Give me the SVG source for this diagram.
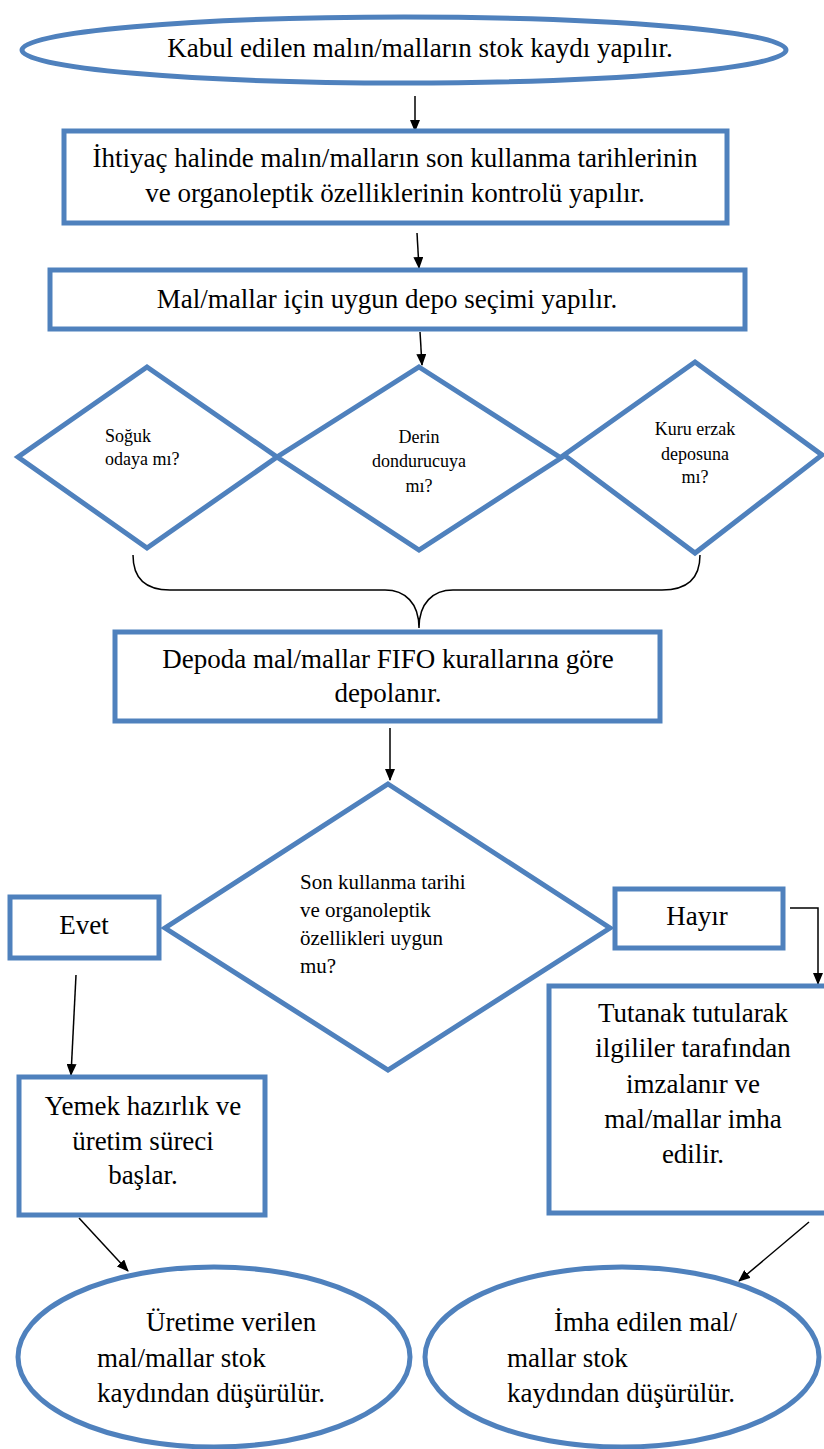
<svg xmlns="http://www.w3.org/2000/svg" width="824" height="1449" viewBox="0 0 824 1449">
<style>
text{font-family:"Liberation Serif",Tinos,"Times New Roman","DejaVu Serif","Noto Serif",serif;fill:#000}
.n{fill:#fff;stroke:#4F81BD;stroke-width:5}
.t{font-size:27px}
.m{font-size:21px}
.s{font-size:18px}
.c{text-anchor:middle}
.a{fill:none;stroke:#000;stroke-width:1.5}
</style>
<defs>
<marker id="ah" markerWidth="12" markerHeight="10" refX="11" refY="5" orient="auto" markerUnits="userSpaceOnUse" viewBox="0 0 12 10">
<path d="M0,0 L12,5 L0,10 z" fill="#000"/>
</marker>
</defs>
<rect width="824" height="1449" fill="#fff"/>
<g id="connectors">
<line class="a" x1="415" y1="96" x2="415" y2="131" marker-end="url(#ah)"/>
<line class="a" x1="417" y1="233" x2="419" y2="268" marker-end="url(#ah)"/>
<line class="a" x1="420" y1="332" x2="422" y2="365" marker-end="url(#ah)"/>
<path class="a" d="M133,555 C133,578 145,590 170,590 L385,590 C405,590 419,603 419,628 C419,603 433,590 453,590 L662,590 C688,590 700,578 700,555"/>
<line class="a" x1="390" y1="728" x2="390" y2="780" marker-end="url(#ah)"/>
<line class="a" x1="76" y1="975" x2="71" y2="1075" marker-end="url(#ah)"/>
<polyline class="a" points="790,908 818,908 818,984" marker-end="url(#ah)"/>
<line class="a" x1="79" y1="1218" x2="128" y2="1271" marker-end="url(#ah)"/>
<line class="a" x1="809" y1="1222" x2="739" y2="1281" marker-end="url(#ah)"/>
</g>
<g id="start">
<ellipse class="n" cx="404" cy="50" rx="382" ry="33"/>
<text class="t c" x="420" y="57">Kabul edilen malın/malların stok kaydı yapılır.</text>
</g>
<g id="check">
<rect class="n" x="64" y="131" width="663" height="92"/>
<text class="t c" x="395" y="167">İhtiyaç halinde malın/malların son kullanma tarihlerinin</text>
<text class="t c" x="395" y="202">ve organoleptik özelliklerinin kontrolü yapılır.</text>
</g>
<g id="select">
<rect class="n" x="50" y="270" width="695" height="59"/>
<text class="t c" x="387" y="308">Mal/mallar için uygun depo seçimi yapılır.</text>
</g>
<g id="d-cold">
<polygon class="n" points="147,367 277,457 147,548 18,457"/>
<text class="s" x="105" y="442">Soğuk</text>
<text class="s" x="105" y="465">odaya mı?</text>
</g>
<g id="d-freezer">
<polygon class="n" points="419,367 561,458 419,550 277,457"/>
<text class="s c" x="419" y="443">Derin</text>
<text class="s c" x="419" y="467">dondurucuya</text>
<text class="s c" x="419" y="492">mı?</text>
</g>
<g id="d-dry">
<polygon class="n" points="695,362 822,455 695,553 564,455"/>
<text class="s c" x="695" y="435">Kuru erzak</text>
<text class="s c" x="695" y="460">deposuna</text>
<text class="s c" x="695" y="483">mı?</text>
</g>
<g id="store">
<rect class="n" x="115" y="632" width="545" height="89"/>
<text class="t c" x="388" y="668">Depoda mal/mallar FIFO kurallarına göre</text>
<text class="t c" x="388" y="702">depolanır.</text>
</g>
<g id="decision">
<polygon class="n" points="388,784 610,928 388,1070 165,928"/>
<text class="m" x="300" y="889">Son kullanma tarihi</text>
<text class="m" x="300" y="917">ve organoleptik</text>
<text class="m" x="300" y="945">özellikleri uygun</text>
<text class="m" x="300" y="973">mu?</text>
</g>
<g id="yes">
<rect class="n" x="10" y="897" width="149" height="61"/>
<text class="t c" x="84" y="934">Evet</text>
</g>
<g id="no">
<rect class="n" x="615" y="889" width="168" height="59"/>
<text class="t c" x="697" y="925">Hayır</text>
</g>
<g id="production">
<rect class="n" x="19" y="1077" width="246" height="138"/>
<text class="t c" x="143" y="1115">Yemek hazırlık ve</text>
<text class="t c" x="143" y="1150">üretim süreci</text>
<text class="t c" x="143" y="1184">başlar.</text>
</g>
<g id="dispose">
<rect class="n" x="549" y="986" width="290" height="227"/>
<text class="t c" x="693" y="1022">Tutanak tutularak</text>
<text class="t c" x="693" y="1057">ilgililer tarafından</text>
<text class="t c" x="693" y="1093">imzalanır ve</text>
<text class="t c" x="693" y="1128">mal/mallar imha</text>
<text class="t c" x="693" y="1163">edilir.</text>
</g>
<g id="end-used">
<ellipse class="n" cx="214" cy="1357" rx="196" ry="90"/>
<text class="t" x="146" y="1331">Üretime verilen</text>
<text class="t" x="97" y="1367">mal/mallar stok</text>
<text class="t" x="97" y="1402">kaydından düşürülür.</text>
</g>
<g id="end-disposed">
<ellipse class="n" cx="622" cy="1357" rx="197" ry="90"/>
<text class="t" x="554" y="1331">İmha edilen mal/</text>
<text class="t" x="507" y="1367">mallar stok</text>
<text class="t" x="507" y="1402">kaydından düşürülür.</text>
</g>
</svg>
